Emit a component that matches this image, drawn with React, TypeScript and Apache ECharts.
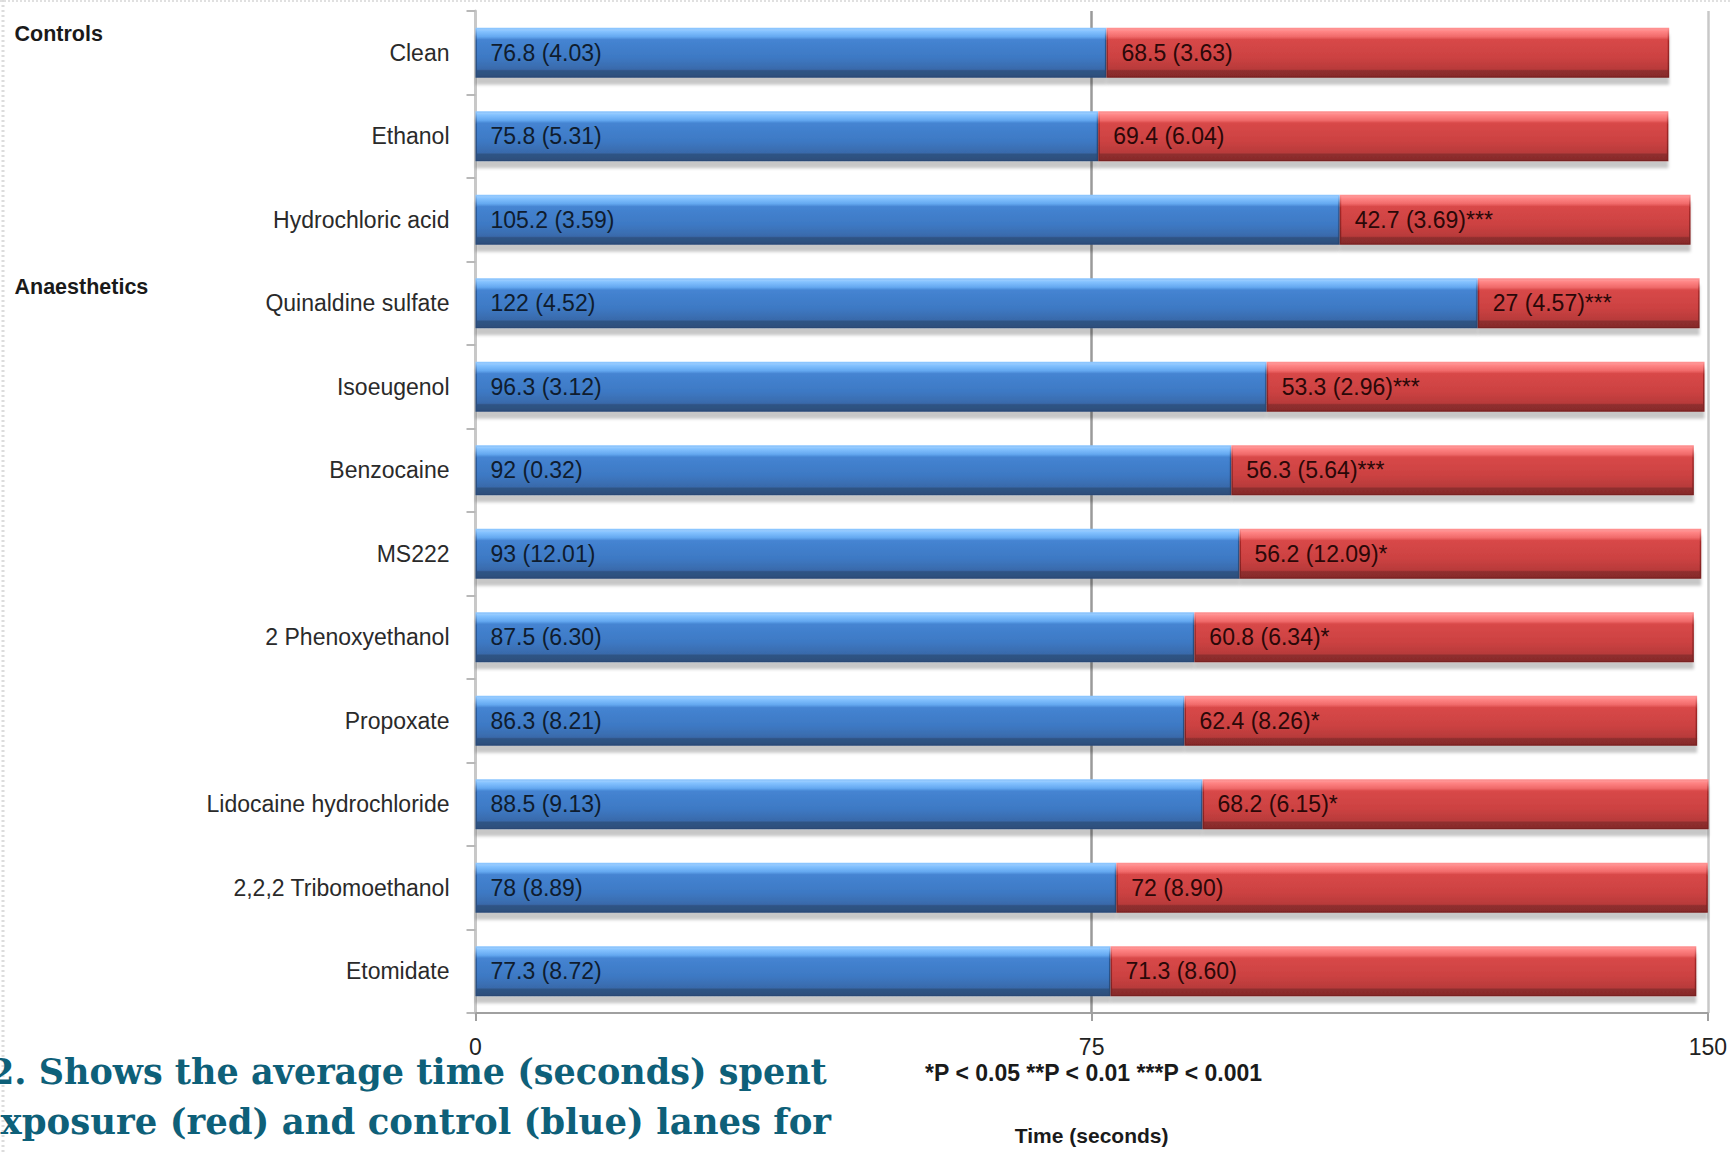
import React, { useEffect, useRef } from "react";
import * as echarts from "echarts";

const categories = [
  "Clean",
  "Ethanol",
  "Hydrochloric acid",
  "Quinaldine sulfate",
  "Isoeugenol",
  "Benzocaine",
  "MS222",
  "2 Phenoxyethanol",
  "Propoxate",
  "Lidocaine hydrochloride",
  "2,2,2 Tribomoethanol",
  "Etomidate",
];
const controlMeans = [76.8, 75.8, 105.2, 122, 96.3, 92, 93, 87.5, 86.3, 88.5, 78, 77.3];
const controlSE = ["4.03", "5.31", "3.59", "4.52", "3.12", "0.32", "12.01", "6.30", "8.21", "9.13", "8.89", "8.72"];
const exposureMeans = [68.5, 69.4, 42.7, 27, 53.3, 56.3, 56.2, 60.8, 62.4, 68.2, 72, 71.3];
const exposureSE = ["3.63", "6.04", "3.69", "4.57", "2.96", "5.64", "12.09", "6.34", "8.26", "6.15", "8.90", "8.60"];
const significance = ["", "", "***", "***", "***", "***", "*", "*", "*", "*", "", ""];
const xTicks = { min: 0, max: 150, interval: 75 };
const groupLabels = ["Controls", "Anaesthetics"];
const captionLines = [
  "2. Shows the average time (seconds) spent",
  "exposure (red) and control (blue) lanes for",
];
const pValueNote = "*P < 0.05 **P < 0.01 ***P < 0.001";
const axisTitle = "Time (seconds)";

const SANS = '"Liberation Sans", Arial, sans-serif';
const SERIF = '"DejaVu Serif", "Liberation Serif", serif';

function vgrad(stops: [number, string][]) {
  return new echarts.graphic.LinearGradient(
    0, 0, 0, 1,
    stops.map(([offset, color]) => ({ offset, color }))
  );
}

export default function App() {
  const ref = useRef<HTMLDivElement>(null);

  useEffect(() => {
    if (!ref.current) return;
    const chart = echarts.init(ref.current, undefined, { renderer: "svg" });

    const blueFill = vgrad([
      [0, "#a6d2ff"],
      [0.06, "#84c2ff"],
      [0.17, "#64a8f0"],
      [0.23, "#4584d2"],
      [0.6, "#3d79c4"],
      [0.84, "#396aab"],
      [0.87, "#2f5485"],
      [1, "#2e4f7c"],
    ]);
    const blueBorder = vgrad([
      [0, "#8cc6ff"],
      [0.25, "#2c5c9e"],
      [1, "#2a4a76"],
    ]);
    const redFill = vgrad([
      [0, "#ffa0a0"],
      [0.06, "#ff8585"],
      [0.17, "#f06a6a"],
      [0.23, "#d84848"],
      [0.6, "#cc4242"],
      [0.84, "#b83a3a"],
      [0.87, "#8f2e2e"],
      [1, "#882b2b"],
    ]);
    const redBorder = vgrad([
      [0, "#ff9090"],
      [0.25, "#a82828"],
      [1, "#7a2222"],
    ]);

    const labelStyle = {
      show: true,
      position: "insideLeft" as const,
      distance: 15,
      fontFamily: SANS,
      fontSize: 23,
    };

    const option: any = {
      animation: false,
      backgroundColor: "#ffffff",
      grid: { left: 475.5, right: 18, top: 11, bottom: 140, containLabel: false },
      xAxis: {
        type: "value",
        min: xTicks.min,
        max: xTicks.max,
        interval: xTicks.interval,
        axisLine: { show: true, lineStyle: { color: "#a0a0a0", width: 2 } },
        axisTick: { show: true, length: 8, lineStyle: { color: "#a0a0a0", width: 2 } },
        axisLabel: { margin: 22, fontFamily: SANS, fontSize: 23, color: "#222" },
        splitLine: {
          show: true,
          lineStyle: { color: ["#c8c8c8", "#9a9a9a", "#c8c8c8"], width: 2.5 },
        },
        name: axisTitle,
        nameLocation: "middle",
        nameGap: 122,
        nameTextStyle: {
          fontFamily: SANS,
          fontSize: 21,
          fontWeight: "bold",
          color: "#1a1a1a",
          verticalAlign: "middle",
        },
      },
      yAxis: {
        type: "category",
        data: categories,
        inverse: true,
        axisLine: { show: true, lineStyle: { color: "#c8c8c8", width: 3 } },
        axisTick: { show: true, length: 9, interval: 0, lineStyle: { color: "#b8b8b8", width: 2 } },
        axisLabel: { margin: 26, fontFamily: SANS, fontSize: 23, color: "#2a2a2a", interval: 0 },
        splitLine: { show: false },
      },
      series: [
        {
          name: "Control",
          type: "bar",
          stack: "total",
          barWidth: 50,
          data: controlMeans,
          itemStyle: {
            color: blueFill,
            borderColor: blueBorder,
            borderWidth: 1.5,
            shadowColor: "rgba(0,0,0,0.22)",
            shadowBlur: 3,
            shadowOffsetY: 7,
          },
          label: {
            ...labelStyle,
            color: "#0f1c2e",
            formatter: (p: any) => `${controlMeans[p.dataIndex]} (${controlSE[p.dataIndex]})`,
          },
        },
        {
          name: "Exposure",
          type: "bar",
          stack: "total",
          barWidth: 50,
          data: exposureMeans,
          itemStyle: {
            color: redFill,
            borderColor: redBorder,
            borderWidth: 1.5,
            shadowColor: "rgba(0,0,0,0.22)",
            shadowBlur: 3,
            shadowOffsetY: 7,
          },
          label: {
            ...labelStyle,
            color: "#2a0808",
            formatter: (p: any) =>
              `${exposureMeans[p.dataIndex]} (${exposureSE[p.dataIndex]})${significance[p.dataIndex]}`,
          },
        },
      ],
      graphic: [
        {
          type: "line",
          shape: { x1: 3, y1: 0, x2: 3, y2: 1153 },
          style: { stroke: "#dcdcdc", lineWidth: 3, lineDash: [2, 3] },
          silent: true,
        },
        {
          type: "line",
          shape: { x1: 0, y1: 1, x2: 1730, y2: 1 },
          style: { stroke: "#e0e0e0", lineWidth: 2, lineDash: [2, 2] },
          silent: true,
        },
        {
          type: "text",
          x: 14.5,
          y: 33.5,
          style: {
            text: groupLabels[0],
            font: `bold 21.5px ${SANS}`,
            fill: "#1a1a1a",
            textAlign: "left",
            textVerticalAlign: "middle",
          },
        },
        {
          type: "text",
          x: 14.5,
          y: 287,
          style: {
            text: groupLabels[1],
            font: `bold 21.5px ${SANS}`,
            fill: "#1a1a1a",
            textAlign: "left",
            textVerticalAlign: "middle",
          },
        },
        {
          type: "text",
          x: 1093.6,
          y: 1073,
          style: {
            text: pValueNote,
            font: `bold 23px ${SANS}`,
            fill: "#1a1a1a",
            textAlign: "center",
            textVerticalAlign: "middle",
          },
        },
        {
          type: "text",
          x: -10,
          y: 1071,
          style: {
            text: captionLines[0],
            font: `bold 35px ${SERIF}`,
            fill: "#0e6079",
            textAlign: "left",
            textVerticalAlign: "middle",
          },
        },
        {
          type: "text",
          x: -22,
          y: 1121,
          style: {
            text: captionLines[1],
            font: `bold 35.5px ${SERIF}`,
            fill: "#0e6079",
            textAlign: "left",
            textVerticalAlign: "middle",
          },
        },
      ],
    };

    chart.setOption(option);
    return () => chart.dispose();
  }, []);

  return (
    <div
      ref={ref}
      style={{ position: "fixed", left: 0, top: 0, width: 1730, height: 1153, background: "#fff" }}
    />
  );
}
